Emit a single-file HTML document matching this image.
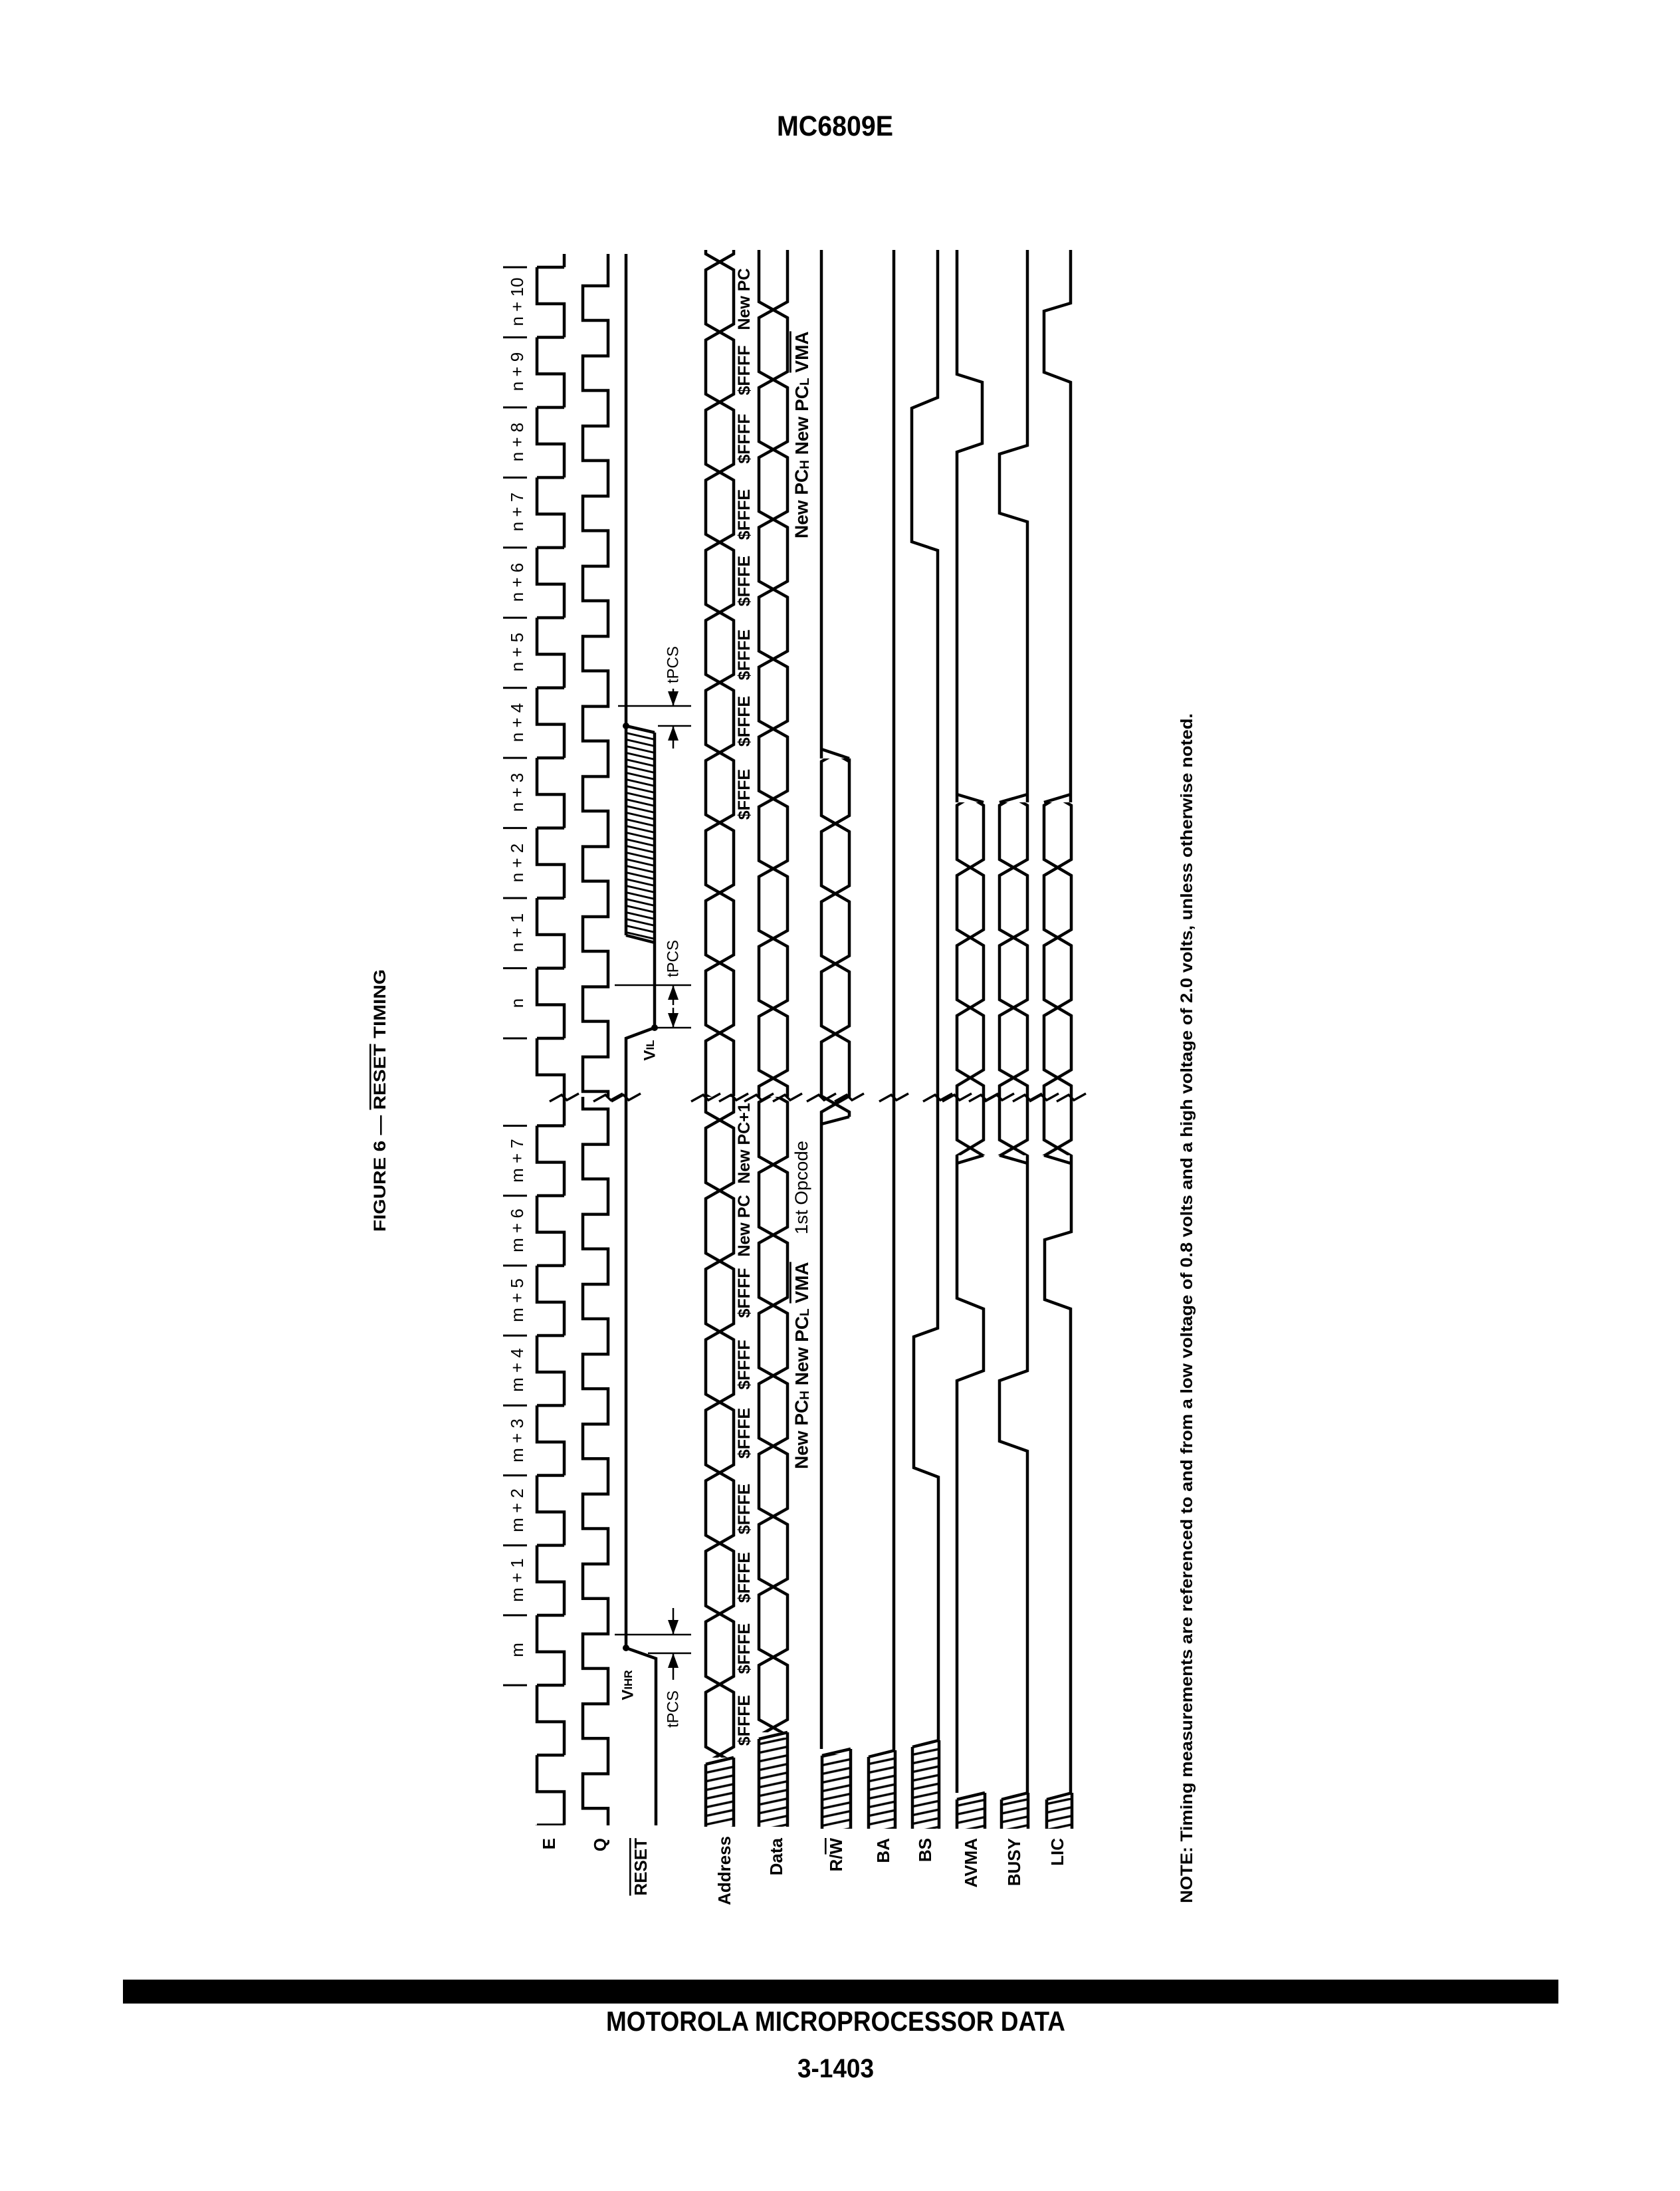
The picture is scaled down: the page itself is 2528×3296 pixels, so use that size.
<!DOCTYPE html>
<html><head><meta charset="utf-8">
<style>
html,body{margin:0;padding:0;background:#fff;}
svg{display:block;}
text{font-family:"Liberation Sans",sans-serif;fill:#000;}
</style></head>
<body>
<svg width="2528" height="3296" viewBox="0 0 2528 3296" xmlns="http://www.w3.org/2000/svg">
<defs>
<pattern id="eN" patternUnits="userSpaceOnUse" x="800" y="402" width="60" height="105.45"><path d="M49,0 H8 V55 H49 V105.45 H8" fill="none" stroke="#000" stroke-width="4.5"/></pattern>
<pattern id="eM" patternUnits="userSpaceOnUse" x="800" y="1693.5" width="60" height="105.2"><path d="M49,0 H8 V55 H49 V105.2 H8" fill="none" stroke="#000" stroke-width="4.5"/></pattern>
<pattern id="qN" patternUnits="userSpaceOnUse" x="870" y="402" width="60" height="105.45"><path d="M45,0 V28 H7 V80 H45 V105.45" fill="none" stroke="#000" stroke-width="4.5"/></pattern>
<pattern id="qM" patternUnits="userSpaceOnUse" x="870" y="1693.5" width="60" height="105.2"><path d="M45,0 V28 H7 V80 H45 V105.2" fill="none" stroke="#000" stroke-width="4.5"/></pattern>
<pattern id="aN" patternUnits="userSpaceOnUse" x="1055" y="394" width="60" height="105.45"><path d="M28,0 L7,12 V93.45 L28,105.45 L49,93.45 V12 Z" fill="none" stroke="#000" stroke-width="4.5"/></pattern>
<pattern id="aM" patternUnits="userSpaceOnUse" x="1055" y="1685" width="60" height="106.1"><path d="M28,0 L7,12 V94.1 L28,106.1 L49,94.1 V12 Z" fill="none" stroke="#000" stroke-width="4.5"/></pattern>
<pattern id="dN" patternUnits="userSpaceOnUse" x="1135" y="466" width="60" height="105.1"><path d="M28.5,0 L7,12 V93.1 L28.5,105.1 L50,93.1 V12 Z" fill="none" stroke="#000" stroke-width="4.5"/></pattern>
<pattern id="dM" patternUnits="userSpaceOnUse" x="1135" y="1752" width="60" height="105.86"><path d="M28.5,0 L7,12 V93.86 L28.5,105.86 L50,93.86 V12 Z" fill="none" stroke="#000" stroke-width="4.5"/></pattern>
<pattern id="rw" patternUnits="userSpaceOnUse" x="1229" y="1239" width="60" height="105.45"><path d="M28,0 L7,12 V93.45 L28,105.45 L49,93.45 V12 Z" fill="none" stroke="#000" stroke-width="4.5"/></pattern>
<pattern id="av" patternUnits="userSpaceOnUse" x="1433" y="1305" width="60" height="105.45"><path d="M27,0 L7,12 V93.45 L27,105.45 L47,93.45 V12 Z" fill="none" stroke="#000" stroke-width="4.5"/></pattern>
<pattern id="bu" patternUnits="userSpaceOnUse" x="1497" y="1305" width="60" height="105.45"><path d="M28,0 L7,12 V93.45 L28,105.45 L49,93.45 V12 Z" fill="none" stroke="#000" stroke-width="4.5"/></pattern>
<pattern id="li" patternUnits="userSpaceOnUse" x="1564" y="1305" width="60" height="105.45"><path d="M27.5,0 L7,12 V93.45 L27.5,105.45 L48,93.45 V12 Z" fill="none" stroke="#000" stroke-width="4.5"/></pattern>
<pattern id="hat" patternUnits="userSpaceOnUse" x="0" y="0" width="10" height="13" patternTransform="skewY(-12)"><path d="M0,6.5 H10" stroke="#000" stroke-width="3.5"/></pattern>
<pattern id="hatR" patternUnits="userSpaceOnUse" x="0" y="0" width="10" height="10" patternTransform="skewY(13)"><path d="M0,5 H10" stroke="#000" stroke-width="3"/></pattern>
</defs>
<rect width="2528" height="3296" fill="#fff"/>

<!-- clocks -->
<rect x="800" y="382" width="60" height="1268" fill="url(#eN)"/>
<rect x="800" y="1650" width="60" height="1096" fill="url(#eM)"/>
<rect x="870" y="382" width="60" height="1268" fill="url(#qN)"/>
<rect x="870" y="1650" width="60" height="1096" fill="url(#qM)"/>

<!-- buses -->
<rect x="1055" y="376" width="60" height="1274" fill="url(#aN)"/>
<rect x="1055" y="1650" width="60" height="994" fill="url(#aM)"/>
<rect x="1135" y="376" width="60" height="1274" fill="url(#dN)"/>
<rect x="1135" y="1650" width="60" height="956" fill="url(#dM)"/>
<rect x="1229" y="1141" width="60" height="539" fill="url(#rw)"/>
<rect x="1433" y="1207" width="60" height="531" fill="url(#av)"/>
<rect x="1497" y="1207" width="60" height="531" fill="url(#bu)"/>
<rect x="1564" y="1207" width="60" height="531" fill="url(#li)"/>

<!-- hatches fill -->
<rect x="1062" y="2652" width="42" height="96" fill="url(#hat)"/>
<rect x="1142" y="2614" width="43" height="134" fill="url(#hat)"/>
<rect x="1237" y="2639" width="43" height="112" fill="url(#hat)"/>
<rect x="1307" y="2641" width="40" height="110" fill="url(#hat)"/>
<rect x="1373" y="2626" width="40" height="125" fill="url(#hat)"/>
<rect x="1440" y="2705" width="42" height="46" fill="url(#hat)"/>
<rect x="1507" y="2705" width="40" height="46" fill="url(#hat)"/>
<rect x="1575" y="2705" width="38" height="46" fill="url(#hat)"/>
<polygon points="942,1092 985,1102 985,1418 942,1407" fill="url(#hatR)"/>

<g fill="none" stroke="#000" stroke-width="4.5">
<!-- hatch rails -->
<path d="M1062,2654V2748M1104,2644V2748M1062,2654L1104,2644"/>
<path d="M1142,2616V2748M1185,2606V2748M1142,2616L1185,2606"/>
<path d="M1237,2641V2751M1280,2631V2751M1237,2641L1280,2631"/>
<path d="M1307,2643V2751M1347,2633V2751M1307,2643L1347,2633"/>
<path d="M1373,2628V2751M1413,2618V2751M1373,2628L1413,2618"/>
<path d="M1440,2707V2751M1482,2697V2751M1440,2707L1482,2697"/>
<path d="M1507,2707V2751M1547,2697V2751M1507,2707L1547,2697"/>
<path d="M1575,2707V2751M1613,2697V2751M1575,2707L1613,2697"/>
<!-- R/W -->
<path d="M1236,376V1141M1236,1127L1278,1141M1278,1141V1145"/>
<path d="M1236,1680L1236,2631M1278,1680L1236,1691"/>
<!-- BA -->
<path d="M1345,376V2633"/>
<!-- BS -->
<path d="M1411,376V598L1372,614V815L1411,828V1998L1375,2011V2208L1412,2222V2618"/>
<!-- AVMA -->
<path d="M1440,376V563L1478,575V667L1440,680V1207M1440,1195L1480,1207M1440,1738L1440,1953L1480,1969V2062L1440,2077V2697M1480,1738L1440,1750"/>
<!-- BUSY -->
<path d="M1546,376V670L1504,683V772L1546,785V1207M1546,1195L1504,1207M1546,1738V2062L1504,2077V2168L1546,2183V2697M1504,1738L1546,1750"/>
<!-- LIC -->
<path d="M1611,376V456L1571,468V560L1611,575V1207M1611,1195L1571,1207M1612,1738V1853L1572,1865V1955L1611,1969V2697M1571,1738L1611,1750"/>
<!-- RESET -->
<path d="M942,382V1407M942,1092L985,1102M942,1407L985,1418M985,1102V1546L942,1562V2479L987,2495V2746"/>
</g>
<g fill="#000">
<circle cx="942" cy="1092" r="5"/><circle cx="985" cy="1546" r="5"/><circle cx="942" cy="2479" r="5"/>
<path d="M1013,1062L1005,1040L1021,1040Z M1013,1092L1005,1114L1021,1114Z M1013,1482L1005,1504L1021,1504Z M1013,1546L1005,1524L1021,1524Z M1013,2459L1005,2437L1021,2437Z M1013,2487L1005,2509L1021,2509Z"/>
</g>
<g fill="none" stroke="#000" stroke-width="2.5">
<path d="M930,1062H1040M990,1092H1040M925,1482H1040M985,1546H1040M925,2459H1040M975,2487H1040"/>
<path d="M1013,1036V1062M1013,1126V1092M1013,1512V1482M1013,1516V1546M1013,2419V2459M1013,2527V2487"/>
<path stroke-width="3" d="M757,402H793M757,507.45H793M757,612.9H793M757,718.35H793M757,823.8H793M757,929.25H793M757,1034.7H793M757,1140.15H793M757,1245.6H793M757,1351.05H793M757,1456.5H793M757,1561.95H793M757,1693.5H793M757,1798.7H793M757,1903.9H793M757,2009.1H793M757,2114.3H793M757,2219.5H793M757,2324.7H793M757,2429.9H793M757,2535.1H793"/>
</g>
<!-- break squiggles -->
<g fill="none" stroke="#000" stroke-width="3.5">
<path d="M827,1657L845,1647L853,1655L871,1645M893,1657L911,1647L919,1655L937,1645M920,1657L938,1647L946,1655L964,1645M1040,1657L1058,1647L1066,1655L1084,1645M1082,1657L1100,1647L1108,1655L1126,1645M1120,1657L1138,1647L1146,1655L1164,1645M1163,1657L1181,1647L1189,1655L1207,1645M1214,1657L1232,1647L1240,1655L1258,1645M1256,1657L1274,1647L1282,1655L1300,1645M1323,1657L1341,1647L1349,1655L1367,1645M1389,1657L1407,1647L1415,1655L1433,1645M1418,1657L1436,1647L1444,1655L1462,1645M1458,1657L1476,1647L1484,1655L1502,1645M1482,1657L1500,1647L1508,1655L1526,1645M1524,1657L1542,1647L1550,1655L1568,1645M1549,1657L1567,1647L1575,1655L1593,1645M1590,1657L1608,1647L1616,1655L1634,1645"/>
</g>

<!-- Header / footer -->
<text x="1169" y="204" font-size="43" font-weight="bold" textLength="175" lengthAdjust="spacingAndGlyphs">MC6809E</text>
<rect x="185" y="2978" width="2160" height="36" fill="#000"/>
<text x="912" y="3055" font-size="42" font-weight="bold" textLength="691" lengthAdjust="spacingAndGlyphs">MOTOROLA MICROPROCESSOR DATA</text>
<text x="1200" y="3125" font-size="40" font-weight="bold" textLength="115" lengthAdjust="spacingAndGlyphs">3-1403</text>

<text transform="translate(572,1853) rotate(-90)" font-size="25" font-weight="bold" dominant-baseline="central" textLength="395" lengthAdjust="spacingAndGlyphs">FIGURE 6 — <tspan text-decoration="overline">RESET</tspan> TIMING</text>

<text transform="translate(1786,2863) rotate(-90)" font-size="25" font-weight="bold" dominant-baseline="central" textLength="1790" lengthAdjust="spacingAndGlyphs">NOTE: Timing measurements are referenced to and from a low voltage of 0.8 volts and a high voltage of 2.0 volts, unless otherwise noted.</text>

<g font-size="26" font-weight="bold" text-anchor="end" dominant-baseline="central">
<text transform="translate(826,2765) rotate(-90)">E</text>
<text transform="translate(903,2765) rotate(-90)">Q</text>
<text transform="translate(964,2765) rotate(-90)" text-decoration="overline">RESET</text>
<text transform="translate(1090,2762) rotate(-90)">Address</text>
<text transform="translate(1168,2765) rotate(-90)">Data</text>
<text transform="translate(1258,2765) rotate(-90)">R/<tspan text-decoration="overline">W</tspan></text>
<text transform="translate(1329,2765) rotate(-90)">BA</text>
<text transform="translate(1392,2765) rotate(-90)">BS</text>
<text transform="translate(1461,2765) rotate(-90)">AVMA</text>
<text transform="translate(1526,2765) rotate(-90)">BUSY</text>
<text transform="translate(1591,2765) rotate(-90)">LIC</text>
</g>

<g font-size="26" text-anchor="middle" dominant-baseline="central">
<text transform="translate(778,454) rotate(-90)">n + 10</text>
<text transform="translate(778,559) rotate(-90)">n + 9</text>
<text transform="translate(778,665) rotate(-90)">n + 8</text>
<text transform="translate(778,770) rotate(-90)">n + 7</text>
<text transform="translate(778,876) rotate(-90)">n + 6</text>
<text transform="translate(778,981) rotate(-90)">n + 5</text>
<text transform="translate(778,1087) rotate(-90)">n + 4</text>
<text transform="translate(778,1192) rotate(-90)">n + 3</text>
<text transform="translate(778,1298) rotate(-90)">n + 2</text>
<text transform="translate(778,1403) rotate(-90)">n + 1</text>
<text transform="translate(778,1509) rotate(-90)">n</text>
<text transform="translate(778,1746) rotate(-90)">m + 7</text>
<text transform="translate(778,1851) rotate(-90)">m + 6</text>
<text transform="translate(778,1956) rotate(-90)">m + 5</text>
<text transform="translate(778,2061) rotate(-90)">m + 4</text>
<text transform="translate(778,2167) rotate(-90)">m + 3</text>
<text transform="translate(778,2272) rotate(-90)">m + 2</text>
<text transform="translate(778,2377) rotate(-90)">m + 1</text>
<text transform="translate(778,2482) rotate(-90)">m</text>
</g>

<g font-size="25" font-weight="bold" text-anchor="middle" dominant-baseline="central">
<text transform="translate(1120,450) rotate(-90)">New PC</text>
<text transform="translate(1120,557) rotate(-90)">$FFFF</text>
<text transform="translate(1120,660) rotate(-90)">$FFFF</text>
<text transform="translate(1120,774) rotate(-90)">$FFFE</text>
<text transform="translate(1120,874) rotate(-90)">$FFFE</text>
<text transform="translate(1120,985) rotate(-90)">$FFFE</text>
<text transform="translate(1120,1085) rotate(-90)">$FFFE</text>
<text transform="translate(1120,1195) rotate(-90)">$FFFE</text>
<text transform="translate(1120,1720) rotate(-90)">New PC+1</text>
<text transform="translate(1120,1844) rotate(-90)">New PC</text>
<text transform="translate(1120,1945) rotate(-90)">$FFFF</text>
<text transform="translate(1120,2053) rotate(-90)">$FFFF</text>
<text transform="translate(1120,2156) rotate(-90)">$FFFE</text>
<text transform="translate(1120,2270) rotate(-90)">$FFFE</text>
<text transform="translate(1120,2373) rotate(-90)">$FFFE</text>
<text transform="translate(1120,2480) rotate(-90)">$FFFE</text>
<text transform="translate(1120,2588) rotate(-90)">$FFFE</text>
</g>

<g font-size="28" font-weight="bold" dominant-baseline="central">
<text transform="translate(1206,810) rotate(-90)">New PC<tspan font-size="19" dy="5">H</tspan><tspan dy="-5"> New PC</tspan><tspan font-size="19" dy="5">L</tspan><tspan dy="-5"> </tspan><tspan text-decoration="overline">VMA</tspan></text>
<text transform="translate(1206,2210) rotate(-90)">New PC<tspan font-size="19" dy="5">H</tspan><tspan dy="-5"> New PC</tspan><tspan font-size="19" dy="5">L</tspan><tspan dy="-5"> </tspan><tspan text-decoration="overline">VMA</tspan></text>
<text transform="translate(1206,1857) rotate(-90)" font-weight="normal" font-size="27" textLength="141" lengthAdjust="spacingAndGlyphs">1st Opcode</text>
</g>

<g font-size="24" text-anchor="middle" dominant-baseline="central">
<text transform="translate(1013,1000) rotate(-90)">tPCS</text>
<text transform="translate(1013,1442) rotate(-90)">tPCS</text>
<text transform="translate(1013,2571) rotate(-90)">tPCS</text>
<text transform="translate(945,2535) rotate(-90)" font-weight="bold">V<tspan font-size="17">IHR</tspan></text>
<text transform="translate(978,1580) rotate(-90)" font-weight="bold">V<tspan font-size="17">IL</tspan></text>
</g>
</svg>
</body></html>
